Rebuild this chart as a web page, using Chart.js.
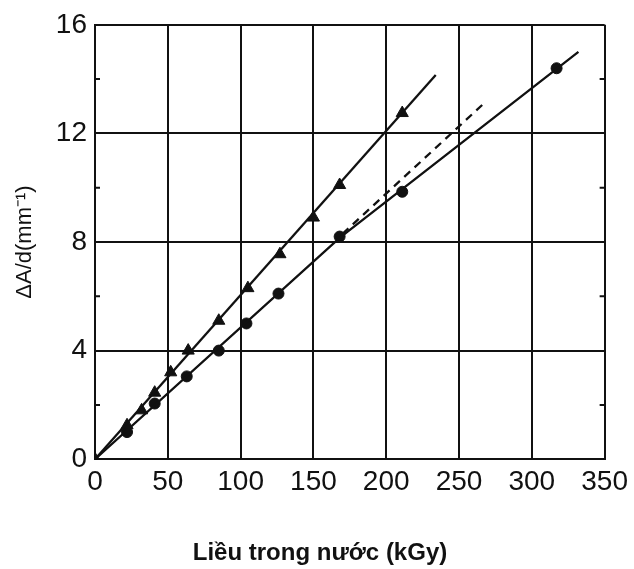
<!DOCTYPE html>
<html>
<head>
<meta charset="utf-8">
<script src="https://cdn.jsdelivr.net/npm/chart.js@4/dist/chart.umd.min.js"></script>
<style>
  body { margin: 0; background: #fff; }
  canvas { display: block; }
</style>
</head>
<body>
<canvas id="chart_dose" width="634" height="569"></canvas>
<script>
// triangles (upper series)
const DOSE_TRI = [0, 22, 32, 41, 52, 64, 85, 105, 127, 150, 168, 211];
const ABS_TRI = [0, 1.25, 1.8, 2.45, 3.2, 4.0, 5.1, 6.3, 7.55, 8.9, 10.1, 12.75];

// circles (lower series)
const DOSE_DOT = [22, 41, 63, 85, 104, 126, 168, 211, 317];
const ABS_DOT = [1.0, 2.05, 3.05, 4.0, 5.0, 6.1, 8.2, 9.85, 14.4];

// drawn lines
const FIT_TRI_X = [0, 234];
const FIT_TRI_Y = [0, 14.15];
const FIT_DOT_X = [0, 168, 332];
const FIT_DOT_Y = [0, 8.15, 15.0];
const DASH_X = [170, 267];
const DASH_Y = [8.3, 13.1];

const X_TICKS = [0, 50, 100, 150, 200, 250, 300, 350];
const Y_TICKS = [0, 4, 8, 12, 16];
const Y_MINOR = [2, 6, 10, 14];

const toPts = (xs, ys) => xs.map((x, i) => ({ x: x, y: ys[i] }));

const INK = "#111";
const TICK_FONT = { family: "'Liberation Sans', Arial, sans-serif", size: 28 };

const minorTicks = {
    id: "minorTicks",
    afterDraw(chart) {
        const ctx = chart.ctx;
        const area = chart.chartArea;
        const y = chart.scales.y;
        ctx.save();
        ctx.strokeStyle = INK;
        ctx.lineWidth = 2;
        Y_MINOR.forEach((v) => {
            const py = y.getPixelForValue(v);
            ctx.beginPath();
            ctx.moveTo(area.left, py);
            ctx.lineTo(area.left + 5, py);
            ctx.moveTo(area.right, py);
            ctx.lineTo(area.right - 5, py);
            ctx.stroke();
        });
        ctx.restore();
    },
};

const ctx = document.getElementById("chart_dose");
const doseChart = new Chart(ctx, {
    type: "scatter",
    data: {
        datasets: [
            {
                data: toPts(FIT_TRI_X, FIT_TRI_Y),
                showLine: true,
                borderColor: INK,
                borderWidth: 2.3,
                pointRadius: 0,
            },
            {
                data: toPts(FIT_DOT_X, FIT_DOT_Y),
                showLine: true,
                borderColor: INK,
                borderWidth: 2.3,
                pointRadius: 0,
            },
            {
                data: toPts(DASH_X, DASH_Y),
                showLine: true,
                borderColor: INK,
                borderWidth: 2.3,
                borderDash: [8, 6],
                pointRadius: 0,
            },
            {
                data: toPts(DOSE_TRI, ABS_TRI),
                pointStyle: "triangle",
                pointRadius: 7,
                backgroundColor: INK,
                borderColor: INK,
                borderWidth: 1,
            },
            {
                data: toPts(DOSE_DOT, ABS_DOT),
                pointStyle: "circle",
                pointRadius: 5.5,
                backgroundColor: INK,
                borderColor: INK,
                borderWidth: 1,
            },
        ],
    },
    options: {
        responsive: false,
        animation: false,
        events: [],
        layout: {
            padding: { left: 6, right: 0, top: 22, bottom: 0 },
        },
        plugins: {
            legend: { display: false },
            tooltip: { enabled: false },
            title: {
                display: true,
                position: "bottom",
                text: "Liều trong nước (kGy)",
                color: INK,
                font: { family: "'Liberation Sans', Arial, sans-serif", size: 24, weight: "bold" },
                padding: { top: 0, bottom: 1 },
            },
        },
        scales: {
            x: {
                type: "linear",
                min: 0,
                max: 350,
                afterBuildTicks: (scale) => {
                    scale.ticks = X_TICKS.map((v) => ({ value: v }));
                },
                afterFit: (scale) => {
                    scale.height = 80;
                },
                grid: { color: INK, lineWidth: 2, drawTicks: false },
                border: { color: INK, width: 2 },
                ticks: { color: INK, font: TICK_FONT, padding: 6, maxRotation: 0 },
            },
            y: {
                type: "linear",
                min: 0,
                max: 16,
                afterBuildTicks: (scale) => {
                    scale.ticks = Y_TICKS.map((v) => ({ value: v }));
                },
                afterFit: (scale) => {
                    scale.width = 89;
                },
                grid: { color: INK, lineWidth: 2, drawTicks: false },
                border: { color: INK, width: 2 },
                ticks: { color: INK, font: TICK_FONT, padding: 8 },
                title: {
                    display: true,
                    text: "ΔA/d(mm⁻¹)",
                    color: INK,
                    font: { family: "'Liberation Sans', Arial, sans-serif", size: 22 },
                    padding: { top: 6, bottom: 0 },
                },
            },
        },
    },
    plugins: [minorTicks],
});
</script>
</body>
</html>
